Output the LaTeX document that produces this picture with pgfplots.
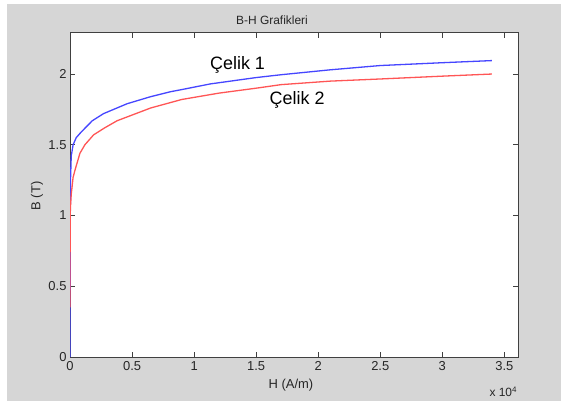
\documentclass[border=0pt]{standalone}
\usepackage{pgfplots}
\pgfplotsset{compat=1.18}
\usepackage{fontspec}
\setmainfont{Liberation Sans}
\definecolor{bggray}{HTML}{D6D6D6}
\definecolor{cblue}{RGB}{70,70,255}
\definecolor{cred}{RGB}{255,85,85}
\definecolor{frame}{HTML}{404040}

\begin{document}
\begin{tikzpicture}[x=1bp,y=1bp]
% figure background (white strip top/left as in the screenshot)
\fill[white] (0,0) rectangle (561,401);
\fill[bggray] (7,0) rectangle (561,397);

\begin{axis}[
    at={(70bp,44bp)}, anchor=south west,
    scale only axis, width=448bp, height=324bp,
    xmin=0, xmax=36100, ymin=0, ymax=2.29,
    xtick={0,5000,10000,15000,20000,25000,30000,35000},
    xticklabels={0,0.5,1,1.5,2,2.5,3,3.5},
    scaled x ticks=false,
    ytick={0,0.5,1,1.5,2},
    yticklabels={0,0.5,1,1.5,2},
    tick align=inside, major tick length=5bp,
    tick style={frame, line width=0.8bp},
    axis line style={frame, line width=1bp},
    axis background/.style={fill=white},
    tick label style={font=\fontsize{13}{15}\selectfont, text=black!85},
    /pgf/number format/assume math mode=true,
    xticklabel style={yshift=-1bp},
    clip=true,
]
\addplot[cblue, line width=1.3bp] coordinates {
  (0,0) (15,0.9) (40,1.25) (100,1.42) (250,1.5) (500,1.55) (900,1.59)
  (1800,1.67) (2700,1.72) (4600,1.79) (6500,1.84) (8100,1.875) (9000,1.89)
  (11300,1.93) (15000,1.975) (17000,1.995) (21000,2.03) (25000,2.06)
  (30000,2.08) (34000,2.095)
};
\addplot[cred, line width=1.3bp] coordinates {
  (0,0.35) (10,0.85) (30,1.05) (100,1.15) (250,1.27) (400,1.32) (800,1.44)
  (1200,1.5) (1900,1.57) (2800,1.62) (3800,1.67) (5000,1.71) (6500,1.76)
  (9000,1.82) (12000,1.865) (15000,1.9) (17000,1.925) (21000,1.95)
  (25000,1.965) (30000,1.985) (34000,2.0)
};
\node[font=\fontsize{18}{20}\selectfont] at (axis cs:13500,2.064) {Çelik 1};
\node[font=\fontsize{18}{20}\selectfont] at (axis cs:18300,1.816) {Çelik 2};
\end{axis}

% title, axis labels, exponent
\node[font=\fontsize{12}{14}\selectfont, text=black!85] at (272,381) {B-H Grafikleri};
\node[font=\fontsize{13}{15}\selectfont, text=black!85, rotate=90] at (37,205) {B (T)};
\node[font=\fontsize{13}{15}\selectfont, text=black!85] at (291,16) {H (A/m)};
\node[font=\fontsize{12}{14}\selectfont, text=black!85, anchor=west] at (486,9) {x 10\textsuperscript{4}};
\end{tikzpicture}
\end{document}
